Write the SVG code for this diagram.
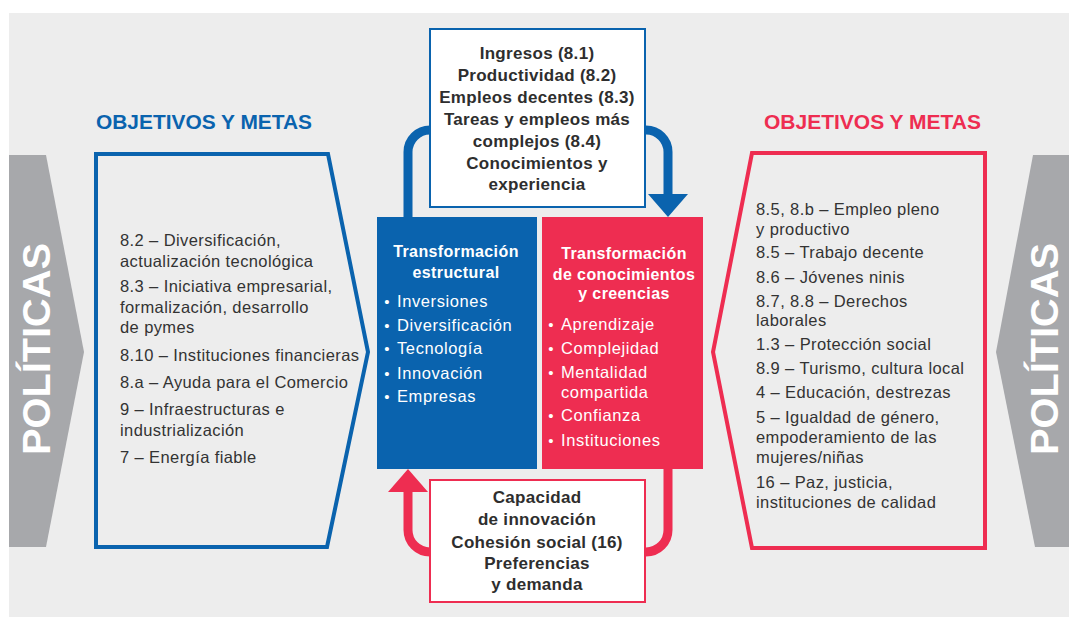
<svg xmlns="http://www.w3.org/2000/svg" width="1069" height="617" viewBox="0 0 1069 617">
<style>
.bg{fill:#ededed}
.gray{fill:#a7a8ab}
.pol{font-family:"Liberation Sans",Arial,sans-serif;font-weight:bold;font-size:39px;fill:#ffffff}
.ttl{font-family:"Liberation Sans",Arial,sans-serif;font-weight:bold;font-size:20px}
.item{font-family:"Liberation Sans",Arial,sans-serif;font-size:16.5px;letter-spacing:0.4px;fill:#333333}
.ctr{font-family:"Liberation Sans",Arial,sans-serif;font-weight:bold;font-size:17px;letter-spacing:0.3px;fill:#2e2e2e;text-anchor:middle}
.bxt{font-family:"Liberation Sans",Arial,sans-serif;font-weight:bold;font-size:16px;letter-spacing:0.4px;fill:#ffffff;text-anchor:middle}
.bul{font-family:"Liberation Sans",Arial,sans-serif;font-size:16.5px;letter-spacing:0.6px;fill:#ffffff}
.dot{font-family:"Liberation Sans",Arial,sans-serif;font-size:15px;fill:#ffffff;text-anchor:middle}
.bconn{fill:none;stroke:#0a63ae;stroke-width:9}
.rconn{fill:none;stroke:#ee2d51;stroke-width:9}
</style>
<rect class="bg" x="9" y="13" width="1060" height="604"/>

<g id="politicas-left">
<polygon class="gray" points="9,155 46,155 84,352 46,547 9,547"/>
<text class="pol" transform="translate(50,349) rotate(-90)" text-anchor="middle" textLength="212" lengthAdjust="spacingAndGlyphs">POLÍTICAS</text>
</g>

<g id="politicas-right">
<polygon class="gray" points="1033,155 1069,155 1069,547 1035,547 996,352"/>
<text class="pol" transform="translate(1058,349) rotate(-90)" text-anchor="middle" textLength="212" lengthAdjust="spacingAndGlyphs">POLÍTICAS</text>
</g>

<g id="objetivos-left">
<text class="ttl" x="96" y="129" fill="#0a63ae" textLength="216" lengthAdjust="spacingAndGlyphs">OBJETIVOS Y METAS</text>
<polygon points="96,154 328,154 368,352 327,547 96,547" fill="none" stroke="#0a63ae" stroke-width="4"/>
<text class="item" x="120" y="246">8.2 – Diversificación,</text>
<text class="item" x="120" y="267">actualización tecnológica</text>
<text class="item" x="120" y="292">8.3 – Iniciativa empresarial,</text>
<text class="item" x="120" y="313">formalización, desarrollo</text>
<text class="item" x="120" y="333">de pymes</text>
<text class="item" x="120" y="361">8.10 – Instituciones financieras</text>
<text class="item" x="120" y="388">8.a – Ayuda para el Comercio</text>
<text class="item" x="120" y="415">9 – Infraestructuras e</text>
<text class="item" x="120" y="436">industrialización</text>
<text class="item" x="120" y="463">7 – Energía fiable</text>
</g>

<g id="objetivos-right">
<text class="ttl" x="764" y="129" fill="#ee2d51" textLength="217" lengthAdjust="spacingAndGlyphs">OBJETIVOS Y METAS</text>
<polygon points="752,153 985,153 985,548 752,548 713,352" fill="none" stroke="#ee2d51" stroke-width="4"/>
<text class="item" x="756" y="215">8.5, 8.b – Empleo pleno</text>
<text class="item" x="756" y="235">y productivo</text>
<text class="item" x="756" y="258">8.5 – Trabajo decente</text>
<text class="item" x="756" y="283">8.6 – Jóvenes ninis</text>
<text class="item" x="756" y="307">8.7, 8.8 – Derechos</text>
<text class="item" x="756" y="326">laborales</text>
<text class="item" x="756" y="350">1.3 – Protección social</text>
<text class="item" x="756" y="374">8.9 – Turismo, cultura local</text>
<text class="item" x="756" y="398">4 – Educación, destrezas</text>
<text class="item" x="756" y="423">5 – Igualdad de género,</text>
<text class="item" x="756" y="443">empoderamiento de las</text>
<text class="item" x="756" y="463">mujeres/niñas</text>
<text class="item" x="756" y="488">16 – Paz, justicia,</text>
<text class="item" x="756" y="508">instituciones de calidad</text>
</g>

<g id="connectors">
<path class="bconn" d="M408,218 V152 A22,22 0 0 1 430,130 H432"/>
<path class="bconn" d="M643,130 H646 A22,22 0 0 1 668,152 V196"/>
<polygon points="648,194 688,194 668,217" fill="#0a63ae"/>
<path class="rconn" d="M668,468 V530 A22,22 0 0 1 646,552 H643"/>
<path class="rconn" d="M432,552 H430 A22,22 0 0 1 408,530 V490"/>
<polygon points="388,492 428,492 408,469" fill="#ee2d51"/>
</g>

<g id="resultados-top">
<rect x="430" y="29" width="215" height="178" fill="#ffffff" stroke="#0a63ae" stroke-width="2"/>
<text class="ctr" x="537" y="59">Ingresos (8.1)</text>
<text class="ctr" x="537" y="81">Productividad (8.2)</text>
<text class="ctr" x="537" y="103">Empleos decentes (8.3)</text>
<text class="ctr" x="537" y="125">Tareas y empleos más</text>
<text class="ctr" x="537" y="147">complejos (8.4)</text>
<text class="ctr" x="537" y="169">Conocimientos y</text>
<text class="ctr" x="537" y="190">experiencia</text>
</g>

<g id="transformacion-estructural">
<rect x="377" y="217" width="160" height="252" fill="#0a63ae"/>
<text class="bxt" x="456" y="257">Transformación</text>
<text class="bxt" x="456" y="278">estructural</text>
<text class="dot" x="387" y="307">•</text><text class="bul" x="397" y="307">Inversiones</text>
<text class="dot" x="387" y="331">•</text><text class="bul" x="397" y="331">Diversificación</text>
<text class="dot" x="387" y="354">•</text><text class="bul" x="397" y="354">Tecnología</text>
<text class="dot" x="387" y="379">•</text><text class="bul" x="397" y="379">Innovación</text>
<text class="dot" x="387" y="402">•</text><text class="bul" x="397" y="402">Empresas</text>
</g>

<g id="transformacion-conocimientos">
<rect x="542" y="217" width="161" height="252" fill="#ee2d51"/>
<text class="bxt" x="624" y="259">Transformación</text>
<text class="bxt" x="624" y="280">de conocimientos</text>
<text class="bxt" x="624" y="299">y creencias</text>
<text class="dot" x="551" y="330">•</text><text class="bul" x="561" y="330">Aprendizaje</text>
<text class="dot" x="551" y="354">•</text><text class="bul" x="561" y="354">Complejidad</text>
<text class="dot" x="551" y="378">•</text><text class="bul" x="561" y="378">Mentalidad</text>
<text class="bul" x="561" y="398">compartida</text>
<text class="dot" x="551" y="421">•</text><text class="bul" x="561" y="421">Confianza</text>
<text class="dot" x="551" y="446">•</text><text class="bul" x="561" y="446">Instituciones</text>
</g>

<g id="capacidades-bottom">
<rect x="430" y="480" width="215" height="122" fill="#ffffff" stroke="#ee2d51" stroke-width="2"/>
<text class="ctr" x="537" y="503">Capacidad</text>
<text class="ctr" x="537" y="525">de innovación</text>
<text class="ctr" x="537" y="548">Cohesión social (16)</text>
<text class="ctr" x="537" y="569">Preferencias</text>
<text class="ctr" x="537" y="590">y demanda</text>
</g>
</svg>
